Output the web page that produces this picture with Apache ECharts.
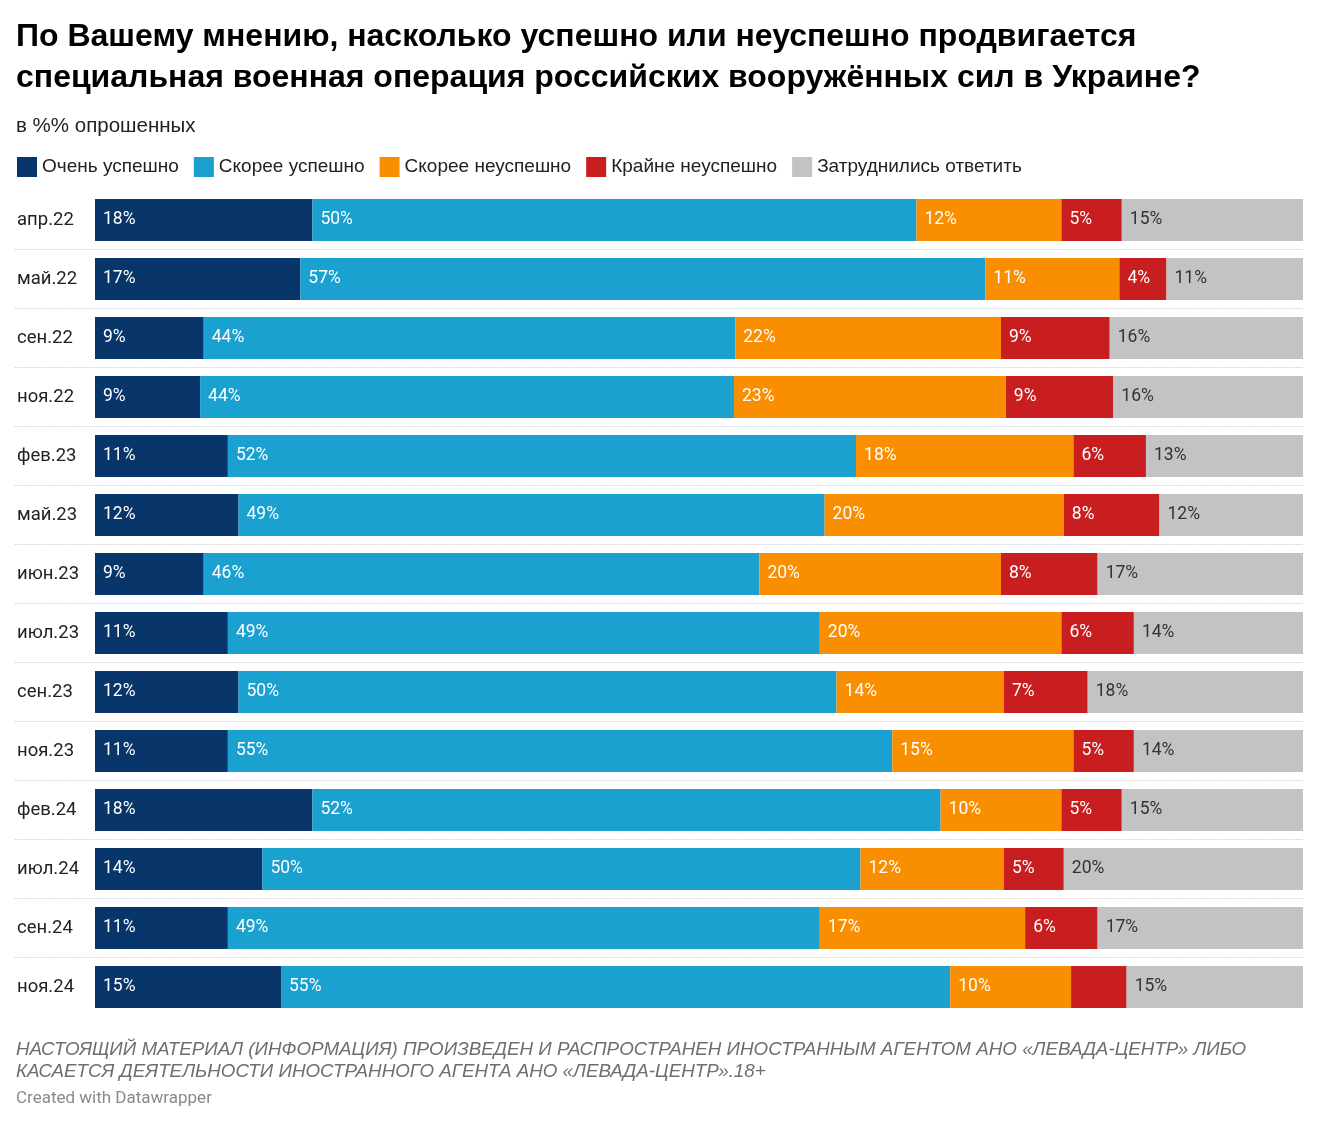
<!DOCTYPE html>
<html><head><meta charset="utf-8">
<script src="https://cdn.jsdelivr.net/npm/echarts@6/dist/echarts.min.js"></script>
<style>html,body{margin:0;padding:0;background:#fff;}#c{width:1320px;height:1127px;}</style>
</head><body><div id="c"></div>
<script>
const categories = ['апр.22','май.22','сен.22','ноя.22','фев.23','май.23','июн.23','июл.23','сен.23','ноя.23','фев.24','июл.24','сен.24','ноя.24'];
const seriesNames = ['Очень успешно','Скорее успешно','Скорее неуспешно','Крайне неуспешно','Затруднились ответить'];
// values; printed labels are these values rounded
const veryGood   = [18,17,9,8.7,11,12,9,11,12,11,18,14,11,15.4];
const ratherGood = [50,56.7,44,44.2,52,49,46,49,50,55,52,50,49,55.4];
const ratherBad  = [12,11.1,22,22.5,18,20,20,20,14,15,10,12,17,10];
const veryBad    = [5,3.9,9,8.9,6,8,8,6,7,5,5,5,6,4.6];
const noAnswer   = [15,11.3,16,15.7,13,12,17,14,18,14,15,20,17,14.6];
// labels not printed in the reference: [row, series]
const hiddenLabels = [[13,3]];
const colors = ['#08356a','#1aa1cf','#f98e00','#c91e1f','#c3c3c3'];
const labelColors = ['#ffffff','#ffffff','#ffffff','#ffffff','#333333'];

const all = [veryGood, ratherGood, ratherBad, veryBad, noAnswer];
const totals = categories.map((_, i) => all.reduce((s, a) => s + a[i], 0));

const series = all.map((arr, si) => ({
  name: seriesNames[si],
  type: 'bar',
  stack: 'total',
  barWidth: 42,
  itemStyle: { color: colors[si] },
  label: {
    show: true,
    position: 'insideLeft',
    distance: 8,
    color: labelColors[si],
    fontFamily: 'Roboto',
    fontSize: 17.5,
    formatter: p => hiddenLabels.some(h => h[0] === p.dataIndex && h[1] === si) ? '' : Math.round(arr[p.dataIndex]) + '%'
  },
  emphasis: { disabled: true },
  data: arr.map((v, i) => v / totals[i] * 100)
}));

const chart = echarts.init(document.getElementById('c'));
chart.setOption({
  animation: false,
  backgroundColor: '#fff',
  title: [{
    text: 'По Вашему мнению, насколько успешно или неуспешно продвигается\nспециальная военная операция российских вооружённых сил в Украине?',
    left: 16, top: 17, padding: 0,
    textStyle: { fontFamily: 'Liberation Sans', fontWeight: 'bold', fontSize: 32, lineHeight: 41, color: '#000' }
  }, {
    text: 'в %% опрошенных',
    left: 16, top: 116, padding: 0,
    textStyle: { fontFamily: 'Liberation Sans', fontWeight: 'normal', fontSize: 20.5, color: '#222' }
  }],
  legend: {
    left: 12, top: 152,
    itemWidth: 20, itemHeight: 20, itemGap: 15,
    icon: 'rect',
    selectedMode: false,
    textStyle: { fontFamily: 'Liberation Sans', fontSize: 19, color: '#222' },
    data: seriesNames
  },
  grid: [
    { left: 95, right: 17, top: 190.5, height: 826 },
    { left: 15, right: 17, top: 190.5, height: 826 }
  ],
  xAxis: [
    { type: 'value', min: 0, max: 100, show: false, gridIndex: 0 },
    { type: 'value', min: 0, max: 100, show: false, gridIndex: 1 }
  ],
  yAxis: [
    { type: 'category', data: categories, inverse: true, gridIndex: 0,
      axisLine: { show: false }, axisTick: { show: false }, splitLine: { show: false },
      axisLabel: { align: 'left', margin: 78, fontFamily: 'Roboto', fontSize: 18.5, color: '#222' } },
    { type: 'category', data: categories, inverse: true, gridIndex: 1,
      axisLine: { show: false }, axisTick: { show: false }, axisLabel: { show: false },
      splitLine: { show: true, showMinLine: false, showMaxLine: false, lineStyle: { type: [1.5, 1.5], color: '#cfcfcf', width: 1 } } }
  ],
  series: series,
  graphic: [
    { type: 'text', left: 16, top: 1039, style: { text: 'НАСТОЯЩИЙ МАТЕРИАЛ (ИНФОРМАЦИЯ) ПРОИЗВЕДЕН И РАСПРОСТРАНЕН ИНОСТРАННЫМ АГЕНТОМ АНО «ЛЕВАДА-ЦЕНТР» ЛИБО\nКАСАЕТСЯ ДЕЯТЕЛЬНОСТИ ИНОСТРАННОГО АГЕНТА АНО «ЛЕВАДА-ЦЕНТР».18+', font: 'italic 18.8px "Liberation Sans"', lineHeight: 22, fill: '#6e6e6e' } },
    { type: 'text', left: 16, top: 1090, style: { text: 'Created with Datawrapper', font: '17px Roboto', fill: '#8a8a8a' } }
  ]
});
</script></body></html>
